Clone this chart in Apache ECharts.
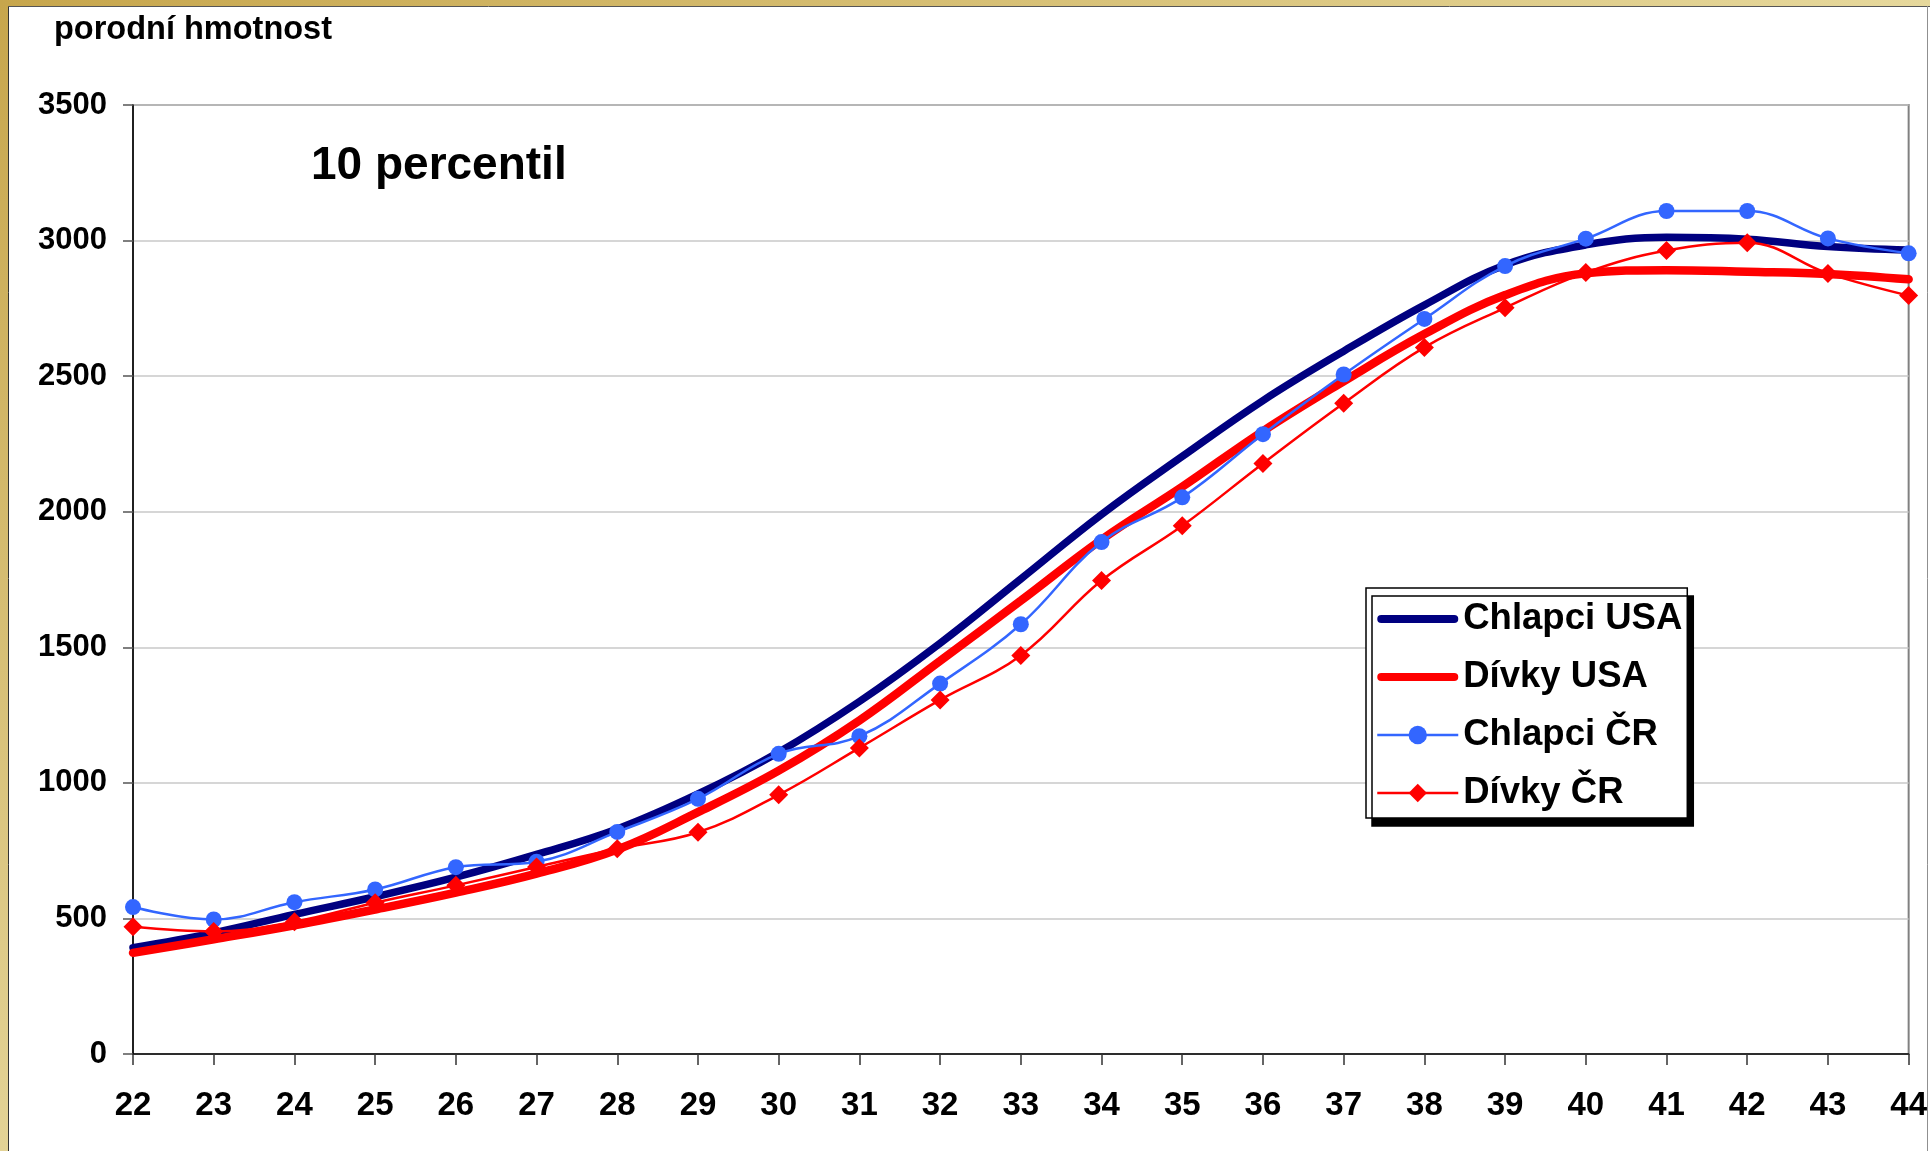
<!DOCTYPE html>
<html>
<head>
<meta charset="utf-8">
<script src="https://cdn.jsdelivr.net/npm/echarts@6/dist/echarts.min.js"></script>
<style>
html,body{margin:0;padding:0;background:#fff;}
#chart{width:1930px;height:1151px;}
</style>
</head>
<body>
<div id="chart"></div>
<script>
var weeks = ['22','23','24','25','26','27','28','29','30','31','32','33','34','35','36','37','38','39','40','41','42','43','44'];
var chlapciUSA = [392, 447, 515, 580, 652, 736, 830, 959, 1113, 1300, 1515, 1752, 1990, 2204, 2410, 2592, 2762, 2910, 2984, 3012, 3005, 2978, 2965];
var divkyUSA   = [373, 423, 475, 533, 595, 665, 754, 892, 1045, 1230, 1450, 1672, 1897, 2092, 2297, 2481, 2655, 2799, 2879, 2891, 2885, 2877, 2857];
var chlapciCR  = [542, 496, 560, 607, 689, 709, 819, 941, 1107, 1172, 1366, 1585, 1888, 2053, 2286, 2506, 2711, 2906, 3007, 3109, 3109, 3008, 2953];
var divkyCR    = [469, 452, 488, 558, 622, 690, 757, 818, 956, 1129, 1306, 1470, 1746, 1948, 2178, 2400, 2606, 2752, 2882, 2963, 2992, 2879, 2797];
var seriesNames = ['Chlapci USA', 'Dívky USA', 'Chlapci ČR', 'Dívky ČR'];
var titleText = 'porodní hmotnost';
var noteText = '10 percentil';

var FONT = "'Liberation Sans', Arial, sans-serif";
var thickIcon = 'path://M4,0 L77,0 A4,4 0 0 1 77,8 L4,8 A4,4 0 0 1 4,0 Z';
var chart = echarts.init(document.getElementById('chart'), null, {renderer: 'canvas'});
chart.setOption({
  backgroundColor: '#ffffff',
  animation: false,
  grid: {left: 133, right: 21, top: 105, bottom: 97, show: true, borderColor: '#808080', borderWidth: 2, backgroundColor: 'transparent'},
  graphic: [
    {type: 'rect', z: 100, shape: {x: 0, y: 0, width: 8, height: 1151},
     style: {fill: new echarts.graphic.LinearGradient(0, 0, 0, 1, [{offset: 0, color: '#c7a64c'}, {offset: 1, color: '#e3d396'}])}},
    {type: 'rect', z: 100, shape: {x: 0, y: 0, width: 1930, height: 6},
     style: {fill: new echarts.graphic.LinearGradient(0, 0, 1, 0, [{offset: 0, color: '#c7a64c'}, {offset: 1, color: '#e6d89c'}])}},
    {type: 'line', z: 101, shape: {x1: 8.5, y1: 6, x2: 8.5, y2: 1151}, style: {stroke: '#333333', lineWidth: 1}},
    {type: 'line', z: 101, shape: {x1: 8, y1: 6.5, x2: 1930, y2: 6.5}, style: {stroke: '#555555', lineWidth: 1}},
    {type: 'line', z: 101, shape: {x1: 1927.5, y1: 6, x2: 1927.5, y2: 1151}, style: {stroke: '#909090', lineWidth: 1}},
    {type: 'text', z: 102, x: 54, y: 30, style: {text: titleText, font: 'bold 32.5px ' + FONT, fill: '#000', verticalAlign: 'middle', align: 'left'}},
    {type: 'text', z: 102, x: 311, y: 166, style: {text: noteText, font: 'bold 46px ' + FONT, fill: '#000', verticalAlign: 'middle', align: 'left'}}
  ],
  legend: {
    orient: 'vertical', left: 1366, top: 588,
    data: [
      {name: seriesNames[0], icon: thickIcon, itemStyle: {color: '#000080'}},
      {name: seriesNames[1], icon: thickIcon, itemStyle: {color: '#ff0000'}},
      {name: seriesNames[2], lineStyle: {width: 2.5}},
      {name: seriesNames[3], lineStyle: {width: 2.5}}
    ],
    backgroundColor: '#ffffff', borderColor: '#000000', borderWidth: 1.5,
    shadowColor: '#000000', shadowBlur: 0, shadowOffsetX: 6, shadowOffsetY: 8,
    padding: [11, 5, 5, 10],
    itemWidth: 81, itemHeight: 23, itemGap: 18, itemTextGap: 9,
    textStyle: {fontFamily: FONT, fontWeight: 'bold', fontSize: 36.5, color: '#000', lineHeight: 40}
  },
  xAxis: {
    type: 'category', data: weeks, boundaryGap: false,
    axisLine: {lineStyle: {color: '#000', width: 1.5}},
    axisTick: {show: true, length: 11, alignWithLabel: true, lineStyle: {color: '#333', width: 1.5}},
    axisLabel: {fontFamily: FONT, fontWeight: 'bold', fontSize: 33, color: '#000', margin: 35, interval: 0},
    splitLine: {show: false}
  },
  yAxis: {
    type: 'value', min: 0, max: 3500, interval: 500,
    axisLine: {show: true, lineStyle: {color: '#000', width: 1.5}},
    axisTick: {show: true, length: 10, lineStyle: {color: '#555', width: 1.5}},
    axisLabel: {fontFamily: FONT, fontWeight: 'bold', fontSize: 31, color: '#000', margin: 26,
      formatter: function (v) { return String(v); }},
    splitLine: {show: true, lineStyle: {color: '#c8c8c8', width: 1.5}}
  },
  series: [
    {name: seriesNames[0], type: 'line', data: chlapciUSA, smooth: 0.4, symbol: 'none', z: 2,
     lineStyle: {color: '#000080', width: 7.5, cap: 'round'}, itemStyle: {color: '#000080'}},
    {name: seriesNames[1], type: 'line', data: divkyUSA, smooth: 0.4, symbol: 'none', z: 3,
     lineStyle: {color: '#ff0000', width: 8.5, cap: 'round'}, itemStyle: {color: '#ff0000'}},
    {name: seriesNames[2], type: 'line', data: chlapciCR, smooth: 0.4, symbol: 'circle', symbolSize: 16, showAllSymbol: true, z: 4,
     lineStyle: {color: '#3366ff', width: 2.5}, itemStyle: {color: '#3366ff'}},
    {name: seriesNames[3], type: 'line', data: divkyCR, smooth: 0.4, symbol: 'diamond', symbolSize: 19, showAllSymbol: true, z: 5,
     lineStyle: {color: '#ff0000', width: 2.5}, itemStyle: {color: '#ff0000'}}
  ]
});
</script>
</body>
</html>
